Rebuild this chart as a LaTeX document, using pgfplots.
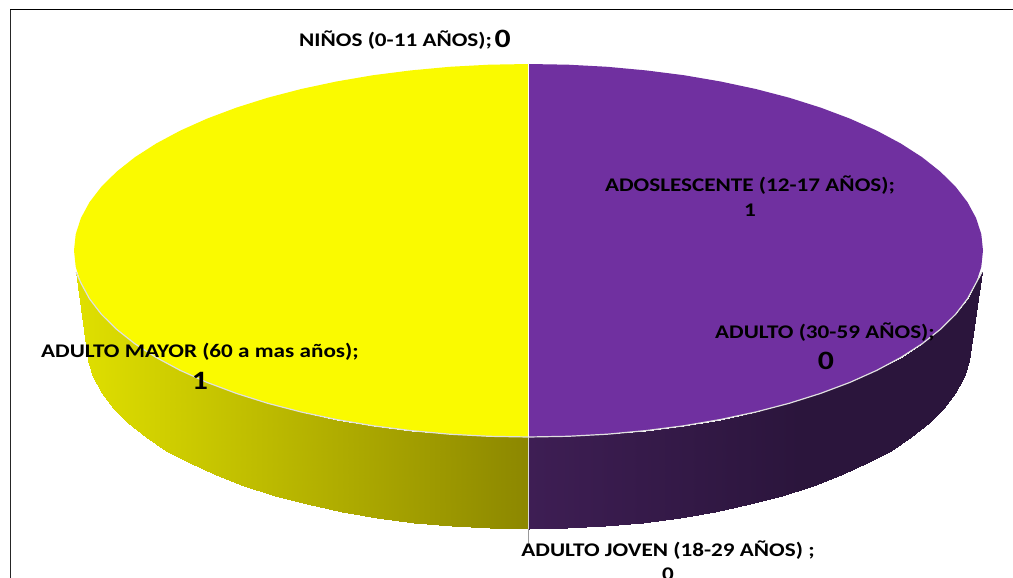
\documentclass[border=0pt]{standalone}
\usepackage{pgfplots}
\pgfplotsset{compat=1.18}
\usepackage{fontspec}
\setmainfont[FakeStretch=1.2]{Carlito}
\pgfplotsset{
  colormap={yelside}{rgb255(0)=(224,224,0); rgb255(10)=(140,135,0)},
  colormap={purside}{rgb255(0)=(62,30,84); rgb255(6)=(43,21,60); rgb255(10)=(43,21,60)},
}
\newcommand{\lab}[1]{\fontsize{19.3}{22}\selectfont\bfseries #1}
\newcommand{\num}[1]{\fontsize{26.5}{30}\selectfont\bfseries #1}
\begin{document}
\begin{tikzpicture}
\clip (0,0) rectangle (1013pt,578pt);
\begin{axis}[
  at={(0,0)}, anchor=south west,
  scale only axis, width=1013pt, height=578pt,
  xmin=0, xmax=1013, ymin=0, ymax=578, y dir=reverse,
  axis lines=none, clip=false,
]
% frame
\addplot[black!85, line width=0.9pt] coordinates {(10.5,600) (10.5,9.5)};
\addplot[black, line width=1.2pt] coordinates {(10,9.5) (1030,9.5)};
% side, yellow
\addplot[surf, shader=interp, colormap name=yelside, point meta=x, point meta rel=per plot, mesh/rows=2] coordinates {
(76,272) (78.5,277.5) (80.9,282.9) (89.5,298.8) (101.4,314.3) (116.6,329.3) (134.9,343.8) (156.2,357.5) (180.3,370.4) (207.1,382.4) (236.4,393.4) (267.8,403.3) (301.2,412.0) (336.4,419.5) (373.1,425.8) (410.9,430.6) (449.6,434.2) (488.9,436.3) (528.5,437)

(86.5,345) (88.2,361) (93.2,377) (101.6,392.6) (113.2,407.9) (127.9,422.8) (145.7,437) (166.4,450.5) (189.9,463.3) (216,475.1) (244.4,486) (275,495.7) (307.5,504.3) (341.7,511.8) (377.3,517.9) (414.1,522.7) (451.7,526.2) (490,528.3) (528.5,529)
};
% side, purple
\addplot[surf, shader=interp, colormap name=purside, point meta=x, point meta rel=per plot, mesh/rows=2] coordinates {
(528.5,437) (568.1,436.3) (607.4,434.2) (646.1,430.6) (683.9,425.8) (720.6,419.5) (755.8,412.0) (789.2,403.3) (820.6,393.4) (849.9,382.4) (876.7,370.4) (900.8,357.5) (922.1,343.8) (940.4,329.3) (955.6,314.3) (967.5,298.8) (976.1,282.9) (979,277.5) (982,272)

(528.5,529) (567,528.3) (605.3,526.2) (642.9,522.7) (679.7,517.9) (715.3,511.8) (749.5,504.3) (782,495.7) (812.6,486) (841,475.1) (867.1,463.3) (890.6,450.5) (911.3,437) (929.1,422.8) (943.8,407.9) (955.4,392.6) (963.8,377) (968.8,361) (970.5,345)
};
% top, yellow
\addplot[fill={rgb,255:red,250;green,250;blue,0}, draw=none] coordinates {
(528.5,64) (488.9,64.7) (449.6,66.8) (410.9,70.4) (373.1,75.2) (336.4,81.5) (301.2,89.0) (267.8,97.7) (236.4,107.6) (207.1,118.6) (180.3,130.6) (156.2,143.5) (134.9,157.2) (116.6,171.7) (101.4,186.7) (89.5,202.2) (80.9,218.1) (75.7,234.2) (74,250.5) (75.7,266.8) (80.9,282.9) (89.5,298.8) (101.4,314.3) (116.6,329.3) (134.9,343.8) (156.2,357.5) (180.3,370.4) (207.1,382.4) (236.4,393.4) (267.8,403.3) (301.2,412.0) (336.4,419.5) (373.1,425.8) (410.9,430.6) (449.6,434.2) (488.9,436.3) (528.5,437)
} -- cycle;
% top, purple
\addplot[fill={rgb,255:red,112;green,48;blue,160}, draw=none] coordinates {
(528.5,64) (568.1,64.7) (607.4,66.8) (646.1,70.4) (683.9,75.2) (720.6,81.5) (755.8,89.0) (789.2,97.7) (820.6,107.6) (849.9,118.6) (876.7,130.6) (900.8,143.5) (922.1,157.2) (940.4,171.7) (955.6,186.7) (967.5,202.2) (976.1,218.1) (981.3,234.2) (983,250.5) (981.3,266.8) (976.1,282.9) (967.5,298.8) (955.6,314.3) (940.4,329.3) (922.1,343.8) (900.8,357.5) (876.7,370.4) (849.9,382.4) (820.6,393.4) (789.2,403.3) (755.8,412.0) (720.6,419.5) (683.9,425.8) (646.1,430.6) (607.4,434.2) (568.1,436.3) (528.5,437)
} -- cycle;
% white rim, lower edge
\addplot[white!88!black, line width=1.2pt] coordinates {
(76,272) (80.9,282.9) (89.5,298.8) (101.4,314.3) (116.6,329.3) (134.9,343.8) (156.2,357.5) (180.3,370.4) (207.1,382.4) (236.4,393.4) (267.8,403.3) (301.2,412.0) (336.4,419.5) (373.1,425.8) (410.9,430.6) (449.6,434.2) (488.9,436.3) (528.5,437) (568.1,436.3) (607.4,434.2) (646.1,430.6) (683.9,425.8) (720.6,419.5) (755.8,412.0) (789.2,403.3) (820.6,393.4) (849.9,382.4) (876.7,370.4) (900.8,357.5) (922.1,343.8) (940.4,329.3) (955.6,314.3) (967.5,298.8) (976.1,282.9) (982,272)
};
% dividing line
\addplot[white, line width=1.2pt] coordinates {(528.5,64) (528.5,437)};
\addplot[white!85!black, line width=1.2pt] coordinates {(528.5,437) (528.5,529)};
% leader
\addplot[gray!80, line width=1.2pt] coordinates {(528.5,529) (528.5,547)};
% labels
\node[anchor=base west, inner sep=0, text=black] at (axis cs:299,47) {\lab{NIÑOS (0-11 AÑOS);}};
\node[anchor=base west, inner sep=0] at (axis cs:494.5,48) {\num{0}};
\node[anchor=base, inner sep=0] at (axis cs:750,191) {\lab{ADOSLESCENTE (12-17 AÑOS);}};
\node[anchor=base, inner sep=0] at (axis cs:750,216) {\lab{1}};
\node[anchor=base, inner sep=0] at (axis cs:825,338) {\lab{ADULTO (30-59 AÑOS);}};
\node[anchor=base, inner sep=0] at (axis cs:826,369) {\num{0}};
\node[anchor=base, inner sep=0] at (axis cs:200,357) {\lab{ADULTO MAYOR (60 a mas años);}};
\node[anchor=base, inner sep=0] at (axis cs:200,389) {\num{1}};
\node[anchor=base, inner sep=0] at (axis cs:668,556) {\lab{ADULTO JOVEN (18-29 AÑOS) ;}};
\node[anchor=base, inner sep=0] at (axis cs:668,580) {\lab{0}};
\end{axis}
\end{tikzpicture}
\end{document}
